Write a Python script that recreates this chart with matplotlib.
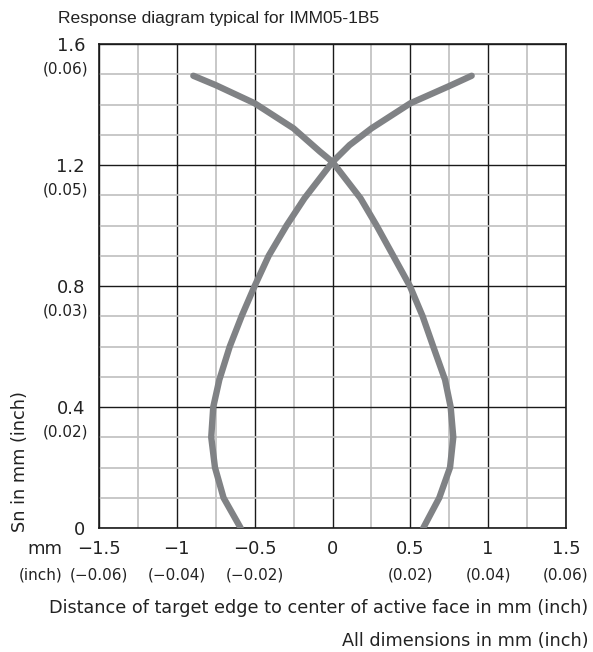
import numpy as np
import matplotlib.pyplot as plt
from matplotlib.ticker import MultipleLocator
import matplotlib.transforms as mtransforms

plt.rcParams['font.family'] = ['DejaVu Sans']

# curve running from lower left up to the upper right
curve_a_x = [-0.59, -0.70, -0.755, -0.779, -0.766, -0.727, -0.66, -0.584, -0.5,
             -0.41, -0.295, -0.18, 0.0, 0.11, 0.25, 0.5, 0.75, 0.894]
curve_a_y = [0.0, 0.1, 0.2, 0.3, 0.4, 0.49, 0.6, 0.7, 0.8,
             0.9, 1.0, 1.09, 1.21, 1.266, 1.321, 1.404, 1.461, 1.495]
# curve running from lower right up to the upper left
curve_b_x = [0.583, 0.686, 0.755, 0.776, 0.759, 0.723, 0.647, 0.579, 0.497,
             0.39, 0.283, 0.18, 0.0, -0.08, -0.25, -0.5, -0.75, -0.894]
curve_b_y = [0.0, 0.1, 0.2, 0.3, 0.4, 0.49, 0.6, 0.7, 0.8,
             0.9, 1.0, 1.09, 1.21, 1.244, 1.321, 1.404, 1.464, 1.495]

x_ticks = [-1.5, -1, -0.5, 0, 0.5, 1, 1.5]
x_labels_mm = ["\u22121.5", "\u22121", "\u22120.5", "0", "0.5", "1", "1.5"]
x_labels_inch = ["(\u22120.06)", "(\u22120.04)", "(\u22120.02)", "", "(0.02)", "(0.04)", "(0.06)"]
y_ticks = [0, 0.4, 0.8, 1.2, 1.6]
y_labels_mm = ["0", "0.4", "0.8", "1.2", "1.6"]
y_labels_inch = ["", "(0.02)", "(0.03)", "(0.05)", "(0.06)"]

fig = plt.figure(figsize=(5.93, 6.52), dpi=100)
ax = fig.add_axes([99 / 593, 1 - 528 / 652, 467 / 593, 484 / 652])

ax.set_xlim(-1.5, 1.5)
ax.set_ylim(0, 1.6)
ax.xaxis.set_major_locator(MultipleLocator(0.5))
ax.xaxis.set_minor_locator(MultipleLocator(0.25))
ax.yaxis.set_major_locator(MultipleLocator(0.4))
ax.yaxis.set_minor_locator(MultipleLocator(0.1))
ax.grid(which="minor", color="#c4c4c4", linewidth=1.3)
ax.grid(which="major", color="#1a1a1a", linewidth=1.0)
ax.set_axisbelow(True)
for s in ax.spines.values():
    s.set_color("#1a1a1a")
    s.set_linewidth(1.2)

ax.plot(curve_a_x, curve_a_y, color="#808285", linewidth=4.6, solid_capstyle="round",
        solid_joinstyle="round", zorder=3)
ax.plot(curve_b_x, curve_b_y, color="#808285", linewidth=4.6, solid_capstyle="round",
        solid_joinstyle="round", zorder=3)

ax.tick_params(which="both", length=0)
ax.set_xticks(x_ticks)
ax.set_xticklabels(x_labels_mm, fontsize=13, color="#222222")
ax.tick_params(axis="x", pad=9)
ax.set_yticks(y_ticks)
ax.set_yticklabels(y_labels_mm, fontsize=13, color="#222222")
ax.tick_params(axis="y", pad=10)

# inch values under the mm tick labels
tx = mtransforms.blended_transform_factory(ax.transData, ax.transAxes)
for xv, lab in zip(x_ticks, x_labels_inch):
    if lab:
        ax.annotate(lab, (xv, 0), xycoords=tx, xytext=(0, -34), textcoords="offset points",
                    ha="center", va="center", fontsize=11, color="#222222")
ty = mtransforms.blended_transform_factory(ax.transAxes, ax.transData)
for yv, lab in zip(y_ticks, y_labels_inch):
    if lab:
        ax.annotate(lab, (0, yv), xycoords=ty, xytext=(-8, -18), textcoords="offset points",
                    ha="right", va="center", fontsize=11, color="#222222")

fig.text(62 / 593, 1 - 549 / 652, "mm", ha="right", va="center", fontsize=13, color="#222222")
fig.text(63 / 593, 1 - 575 / 652, "(inch)", ha="right", va="center", fontsize=11, color="#222222")

fig.text(58 / 593, 1 - 18 / 652, "Response diagram typical for IMM05-1B5", ha="left", va="center",
         fontsize=12.6, color="#222222", family=["Liberation Sans", "DejaVu Sans"])
fig.text(20 / 593, 1 - 532 / 652, "Sn in mm (inch)", rotation=90, ha="center", va="bottom",
         fontsize=12.8, color="#222222")
fig.text(588 / 593, 1 - 608 / 652, "Distance of target edge to center of active face in mm (inch)",
         ha="right", va="center", fontsize=12.7, color="#222222")
fig.text(588 / 593, 1 - 641 / 652, "All dimensions in mm (inch)", ha="right", va="center",
         fontsize=12.7, color="#222222")

fig.savefig("out.png", dpi=100)
